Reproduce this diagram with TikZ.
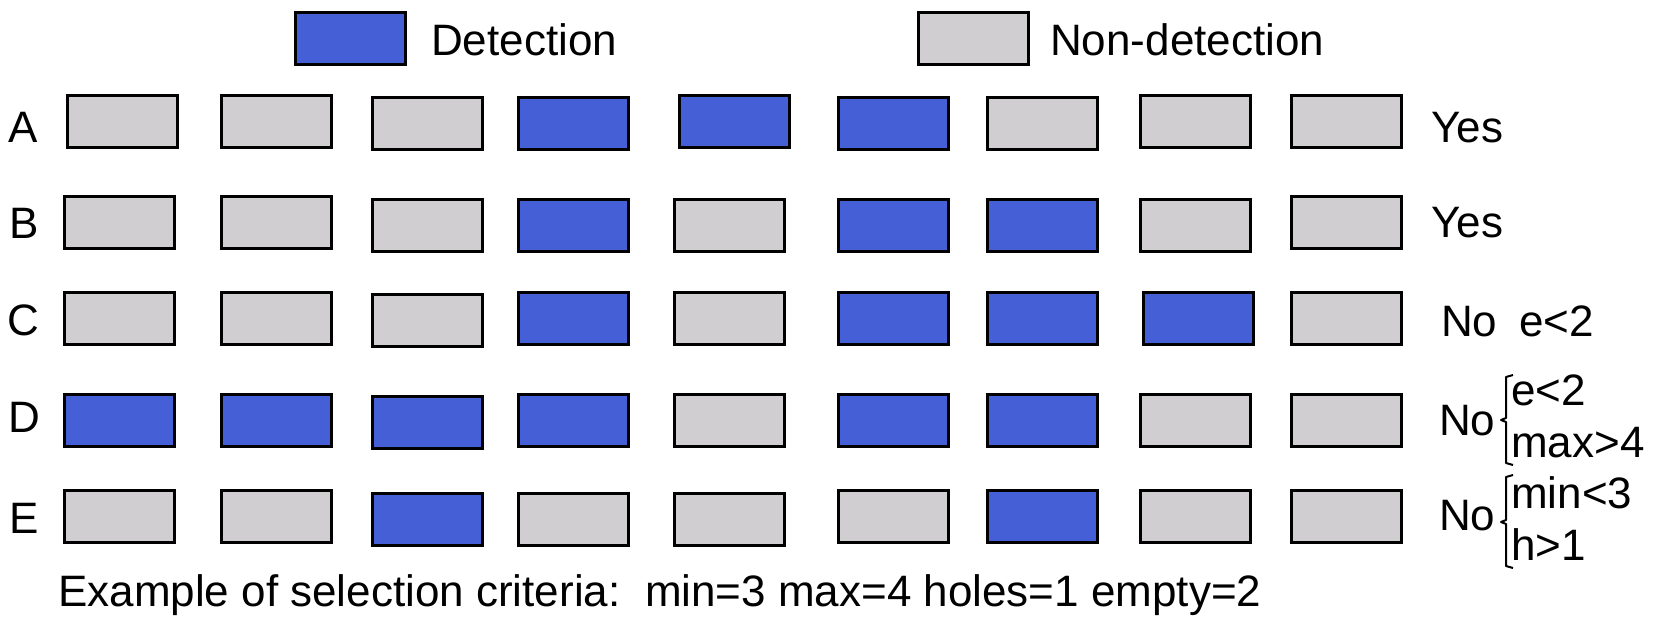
\documentclass[tikz,border=0pt]{standalone}
\usepackage{fontspec}
\setmainfont{Liberation Sans}
\definecolor{detblue}{RGB}{69,96,214}
\definecolor{nongray}{RGB}{208,206,208}
\tikzset{
  cell/.style={draw=black, line width=2.5pt, minimum width=110pt, minimum height=52pt, inner sep=0pt, anchor=north west},
  det/.style={cell, fill=detblue},
  non/.style={cell, fill=nongray},
  txt/.style={inner sep=0pt, anchor=base west, font=\fontsize{44}{50}\selectfont},
  brk/.style={line width=2pt, line join=round}
}
\begin{document}
\begin{tikzpicture}[x=1pt,y=-1pt]
\useasboundingbox (0,0) rectangle (1660,627);
% legend
\node[det] (legdet) at (294,11) {};
\node[txt] (legdettxt) at (431,55) {Detection};
\node[non] (legnon) at (917,11) {};
\node[txt] (legnontxt) at (1050,55) {Non-detection};
% row labels
\node[txt] (labA) at (8,142) {A};
\node[txt] (labB) at (9,238) {B};
\node[txt] (labC) at (7,335) {C};
\node[txt] (labD) at (8,432) {D};
\node[txt] (labE) at (9,533) {E};
% rows
\foreach \i/\x/\t/\s in {1/66/94/non,2/220/94/non,3/371/96/non,4/517/96/det,5/678/94/det,6/837/96/det,7/986/96/non,8/1139/94/non,9/1290/94/non}
  \node[\s] (A\i) at (\x,\t) {};
\foreach \i/\x/\t/\s in {1/63/195/non,2/220/195/non,3/371/198/non,4/517/198/det,5/673/198/non,6/837/198/det,7/986/198/det,8/1139/198/non,9/1290/195/non}
  \node[\s] (B\i) at (\x,\t) {};
\foreach \i/\x/\t/\s in {1/63/291/non,2/220/291/non,3/371/293/non,4/517/291/det,5/673/291/non,6/837/291/det,7/986/291/det,8/1142/291/det,9/1290/291/non}
  \node[\s] (C\i) at (\x,\t) {};
\foreach \i/\x/\t/\s in {1/63/393/det,2/220/393/det,3/371/395/det,4/517/393/det,5/673/393/non,6/837/393/det,7/986/393/det,8/1139/393/non,9/1290/393/non}
  \node[\s] (D\i) at (\x,\t) {};
\foreach \i/\x/\t/\s in {1/63/489/non,2/220/489/non,3/371/492/det,4/517/492/non,5/673/492/non,6/837/489/non,7/986/489/det,8/1139/489/non,9/1290/489/non}
  \node[\s] (E\i) at (\x,\t) {};
% results
\node[txt] (resA) at (1431,142) {Yes};
\node[txt] (resB) at (1431,237) {Yes};
\node[txt] (resC) at (1441,336) {No};
\node[txt] (resCe) at (1519,336) {e<2};
\node[txt] (resD) at (1439,435) {No};
\node[txt] (resD1) at (1511,405) {e<2};
\node[txt] (resD2) at (1511,457) {max>4};
\draw[brk] (1513,375) -- (1506,377) -- (1506,418) -- (1501,420) -- (1506,422) -- (1506,463) -- (1513,465);
\node[txt] (resE) at (1439,530) {No};
\node[txt] (resE1) at (1511,508) {min<3};
\node[txt] (resE2) at (1511,560) {h>1};
\draw[brk] (1513,475) -- (1506,477) -- (1506,520) -- (1501,522) -- (1506,524) -- (1506,566) -- (1513,568);
% bottom
\node[txt] (crit) at (58,606) {Example of selection criteria:\ \ min=3 max=4 holes=1 empty=2};
\end{tikzpicture}
\end{document}
